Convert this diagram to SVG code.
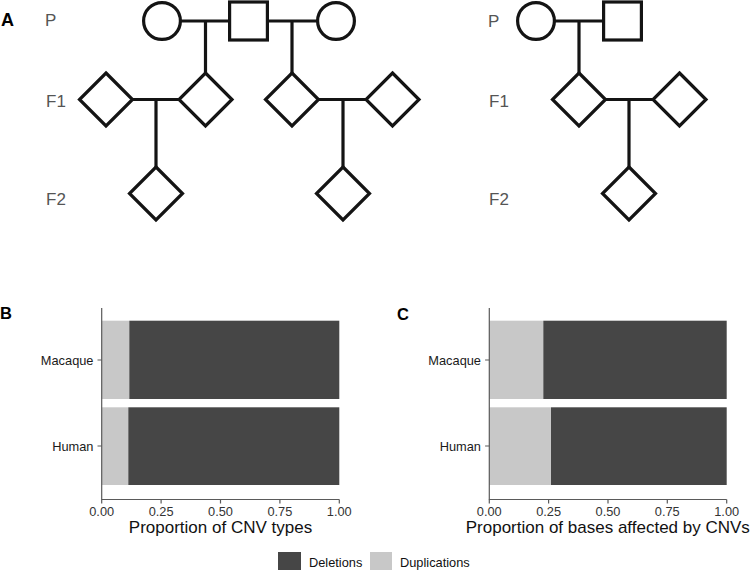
<svg xmlns="http://www.w3.org/2000/svg" width="751" height="570" viewBox="0 0 751 570">
<style>
text{font-family:"Liberation Sans",Arial,sans-serif}
.sym{fill:#fff;stroke:#141414;stroke-width:3.2;stroke-linejoin:miter}
.con{stroke:#141414;stroke-width:3.2;fill:none}
.gen{font-size:17px;fill:#555}
.pl{font-size:16.5px;font-weight:bold;fill:#000}
.dark{fill:#464646}
.light{fill:#c8c8c8}
.ax{stroke:#5a5a5a;stroke-width:1.2;fill:none}
.tk{font-size:12.8px;fill:#333}
.yl{font-size:12.8px;fill:#1a1a1a}
.tt{font-size:17px;fill:#111}
.lg{font-size:12.8px;fill:#111}
</style>
<rect width="751" height="570" fill="#fff"/>

<!-- Panel A -->
<text class="pl" x="1" y="25.5" style="font-size:18px">A</text>
<text class="gen" x="45" y="26">P</text>
<text class="gen" x="46" y="107">F1</text>
<text class="gen" x="46" y="205">F2</text>
<text class="gen" x="488" y="27">P</text>
<text class="gen" x="489" y="107">F1</text>
<text class="gen" x="489" y="205">F2</text>

<g id="connectors">
  <path class="con" d="M180.4 21H229.6M205.5 21V73"/>
  <path class="con" d="M267.4 21H317.6M292 21V73"/>
  <path class="con" d="M132.5 99.5H179M156 99.5V167"/>
  <path class="con" d="M318 99.5H366M343 99.5V167"/>
  <path class="con" d="M554.4 21H603.6M579 21V73"/>
  <path class="con" d="M605.5 99.5H653M629 99.5V167"/>
</g>

<g id="p_female1"><circle class="sym" cx="162" cy="21" r="18.4"/></g>
<g id="p_male"><rect class="sym" x="229.6" y="2" width="37.8" height="38"/></g>
<g id="p_female2"><circle class="sym" cx="336" cy="21" r="18.4"/></g>
<g id="f1_a"><path class="sym" d="M106 73L132.5 99.5L106 126L79.5 99.5Z"/></g>
<g id="f1_b"><path class="sym" d="M205.5 73L232 99.5L205.5 126L179 99.5Z"/></g>
<g id="f1_c"><path class="sym" d="M292 73L318.5 99.5L292 126L265.5 99.5Z"/></g>
<g id="f1_d"><path class="sym" d="M392.5 73L419 99.5L392.5 126L366 99.5Z"/></g>
<g id="f2_a"><path class="sym" d="M156 167L182.5 193.5L156 220L129.5 193.5Z"/></g>
<g id="f2_b"><path class="sym" d="M343 167L369.5 193.5L343 220L316.5 193.5Z"/></g>

<g id="r_p_female"><circle class="sym" cx="536" cy="21" r="18.4"/></g>
<g id="r_p_male"><rect class="sym" x="603.6" y="2" width="37.8" height="38"/></g>
<g id="r_f1_a"><path class="sym" d="M579 73L605.5 99.5L579 126L552.5 99.5Z"/></g>
<g id="r_f1_b"><path class="sym" d="M679.5 73L706 99.5L679.5 126L653 99.5Z"/></g>
<g id="r_f2"><path class="sym" d="M629 167L655.5 193.5L629 220L602.5 193.5Z"/></g>

<!-- Panel B -->
<text class="pl" x="0" y="318.5">B</text>
<rect class="light" x="101.7" y="320.7" width="27.6" height="78.3"/>
<rect class="dark" x="129.3" y="320.7" width="210" height="78.3"/>
<rect class="light" x="101.7" y="407.3" width="26.6" height="77.7"/>
<rect class="dark" x="128.3" y="407.3" width="211" height="77.7"/>
<path class="ax" d="M101.7 308V499.5H339.3"/>
<path class="ax" d="M97.5 360H101.7M97.5 446H101.7M101.7 499.5V503.5M161.1 499.5V503.5M220.5 499.5V503.5M279.9 499.5V503.5M339.3 499.5V503.5"/>
<text class="yl" x="93.5" y="364.5" text-anchor="end">Macaque</text>
<text class="yl" x="93.5" y="450.5" text-anchor="end">Human</text>
<g class="tk" text-anchor="middle">
<text x="101.7" y="515.5">0.00</text>
<text x="161.1" y="515.5">0.25</text>
<text x="220.5" y="515.5">0.50</text>
<text x="279.9" y="515.5">0.75</text>
<text x="339.3" y="515.5">1.00</text>
</g>
<text class="tt" x="220.5" y="533" text-anchor="middle">Proportion of CNV types</text>

<!-- Panel C -->
<text class="pl" x="397" y="320">C</text>
<rect class="light" x="489.3" y="320.7" width="54" height="78.3"/>
<rect class="dark" x="543.3" y="320.7" width="183.4" height="78.3"/>
<rect class="light" x="489.3" y="407.3" width="61.7" height="77.7"/>
<rect class="dark" x="551" y="407.3" width="175.7" height="77.7"/>
<path class="ax" d="M489.3 308V499.5H726.7"/>
<path class="ax" d="M485.1 360H489.3M485.1 446H489.3M489.3 499.5V503.5M548.6 499.5V503.5M608 499.5V503.5M667.3 499.5V503.5M726.7 499.5V503.5"/>
<text class="yl" x="481" y="364.5" text-anchor="end">Macaque</text>
<text class="yl" x="481" y="450.5" text-anchor="end">Human</text>
<g class="tk" text-anchor="middle">
<text x="489.3" y="515.5">0.00</text>
<text x="548.6" y="515.5">0.25</text>
<text x="608" y="515.5">0.50</text>
<text x="667.3" y="515.5">0.75</text>
<text x="726.7" y="515.5">1.00</text>
</g>
<text class="tt" x="607.8" y="533" text-anchor="middle">Proportion of bases affected by CNVs</text>

<!-- Legend -->
<rect class="dark" x="278" y="552" width="23" height="23"/>
<text class="lg" x="309" y="567">Deletions</text>
<rect class="light" x="370" y="552" width="22" height="23"/>
<text class="lg" x="400" y="567">Duplications</text>
</svg>
